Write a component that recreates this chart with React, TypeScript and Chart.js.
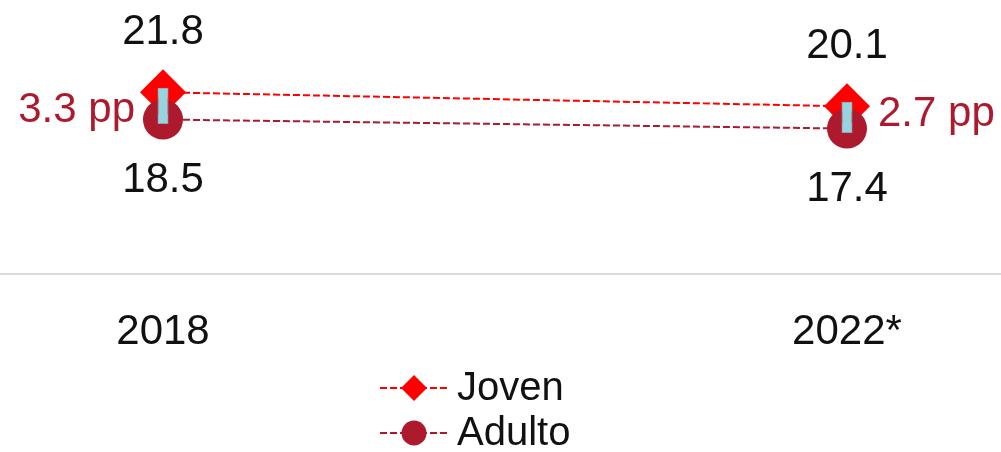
import React, { useEffect, useRef } from 'react';
import { Chart, registerables } from 'chart.js';

Chart.register(...registerables);

const categories = ['2018', '2022*'];
const joven = [21.8, 20.1];
const adulto = [18.5, 17.4];
const seriesNames = ['Joven', 'Adulto'];

const FONT = "'Liberation Sans', Arial, sans-serif";
const RED = '#FF0000';
const DARK = '#AD1A2E';
const BLUE = '#98D4E0';
const TEXT = '#111111';

export default function App() {
  const ref = useRef<HTMLCanvasElement>(null);

  useEffect(() => {
    if (!ref.current) return;

    const labelsPlugin = {
      id: 'customLabels',
      beforeDatasetsDraw(chart: any) {
        const ctx = chart.ctx;
        const y = chart.chartArea.bottom + 2;
        ctx.save();
        ctx.strokeStyle = '#D9D9D9';
        ctx.lineWidth = 2;
        ctx.beginPath();
        ctx.moveTo(0, y);
        ctx.lineTo(chart.width, y);
        ctx.stroke();
        ctx.restore();
      },
      afterDatasetsDraw(chart: any) {
        const ctx = chart.ctx;
        const xs = chart.scales.x;
        const ys = chart.scales.y;
        ctx.save();
        ctx.textBaseline = 'middle';
        ctx.textAlign = 'center';
        ctx.fillStyle = TEXT;
        ctx.font = `42px ${FONT}`;
        categories.forEach((_, i) => {
          const x = xs.getPixelForValue(i);
          const yj = ys.getPixelForValue(joven[i]);
          const ya = ys.getPixelForValue(adulto[i]);
          ctx.fillText(joven[i].toFixed(1), x, yj - 60);
          ctx.fillText(adulto[i].toFixed(1), x, ya + 61);
        });
        ctx.font = `42px ${FONT}`;
        ctx.fillStyle = DARK;
        categories.forEach((_, i) => {
          const x = xs.getPixelForValue(i);
          const yj = ys.getPixelForValue(joven[i]);
          const ya = ys.getPixelForValue(adulto[i]);
          const gap = (joven[i] - adulto[i]).toFixed(1) + ' pp';
          const ym = (yj + ya) / 2;
          if (i === 0) {
            ctx.textAlign = 'right';
            ctx.fillText(gap, x - 28, ym + 5);
          } else {
            ctx.textAlign = 'left';
            ctx.fillText(gap, x + 31, ym - 3);
          }
        });
        ctx.restore();
      },
      afterDraw(chart: any) {
        const ctx = chart.ctx;
        const rows = [
          { name: seriesNames[0], color: RED, style: 'diamond', y: chart.height - 64 },
          { name: seriesNames[1], color: DARK, style: 'circle', y: chart.height - 19 },
        ];
        const x0 = 380;
        const x1 = 448;
        const xm = 414;
        ctx.save();
        rows.forEach((r) => {
          ctx.strokeStyle = r.color;
          ctx.lineWidth = 2;
          ctx.setLineDash([7, 3]);
          ctx.beginPath();
          ctx.moveTo(x0, r.y);
          ctx.lineTo(x1, r.y);
          ctx.stroke();
          ctx.setLineDash([]);
          ctx.fillStyle = r.color;
          ctx.beginPath();
          if (r.style === 'diamond') {
            const s = 13;
            ctx.moveTo(xm - s, r.y);
            ctx.lineTo(xm, r.y - s);
            ctx.lineTo(xm + s, r.y);
            ctx.lineTo(xm, r.y + s);
            ctx.closePath();
          } else {
            ctx.arc(xm, r.y, 12.5, 0, Math.PI * 2);
          }
          ctx.fill();
          ctx.fillStyle = TEXT;
          ctx.font = `40px ${FONT}`;
          ctx.textAlign = 'left';
          ctx.textBaseline = 'middle';
          ctx.fillText(r.name, 457, r.y + 1);
        });
        ctx.restore();
      },
    };

    const chart = new Chart(ref.current, {
      type: 'line',
      data: {
        labels: categories,
        datasets: [
          {
            type: 'bar',
            label: 'Brecha',
            data: categories.map((_, i) => [adulto[i], joven[i]]) as any,
            backgroundColor: BLUE,
            borderColor: '#8EA7B0',
            borderWidth: 1,
            borderSkipped: false,
            barThickness: 2,
            inflateAmount: 4.5,
            clip: false,
            order: 0,
          } as any,
          {
            type: 'line',
            label: seriesNames[1],
            data: adulto,
            borderColor: DARK,
            borderWidth: 2,
            borderDash: [7, 3],
            pointStyle: 'circle',
            pointRadius: 20,
            pointBackgroundColor: DARK,
            pointBorderColor: DARK,
            pointBorderWidth: 0,
            clip: false,
            order: 1,
          },
          {
            type: 'line',
            label: seriesNames[0],
            data: joven,
            borderColor: RED,
            borderWidth: 2,
            borderDash: [7, 3],
            pointStyle: 'rectRot',
            pointRadius: 23,
            pointBackgroundColor: RED,
            pointBorderColor: RED,
            pointBorderWidth: 0,
            clip: false,
            order: 2,
          },
        ],
      },
      options: {
        animation: false,
        responsive: true,
        maintainAspectRatio: false,
        layout: { autoPadding: false, padding: { left: 163, right: 154, top: 0, bottom: 100 } },
        plugins: {
          legend: { display: false },
          tooltip: { enabled: false },
        },
        scales: {
          x: {
            type: 'category',
            offset: false,
            grid: { display: false },
            border: { display: false },
            ticks: {
              font: { family: FONT, size: 42 },
              color: TEXT,
              padding: 27,
              maxRotation: 0,
              autoSkip: false,
            },
            afterFit: (s: any) => {
              s.height = 80;
            },
          },
          y: {
            display: false,
            min: 0,
            max: 33,
          },
        },
      },
      plugins: [labelsPlugin],
    });

    return () => chart.destroy();
  }, []);

  return (
    <div style={{ position: 'fixed', left: 0, top: 0, width: 1001, height: 452 }}>
      <canvas ref={ref} />
    </div>
  );
}
